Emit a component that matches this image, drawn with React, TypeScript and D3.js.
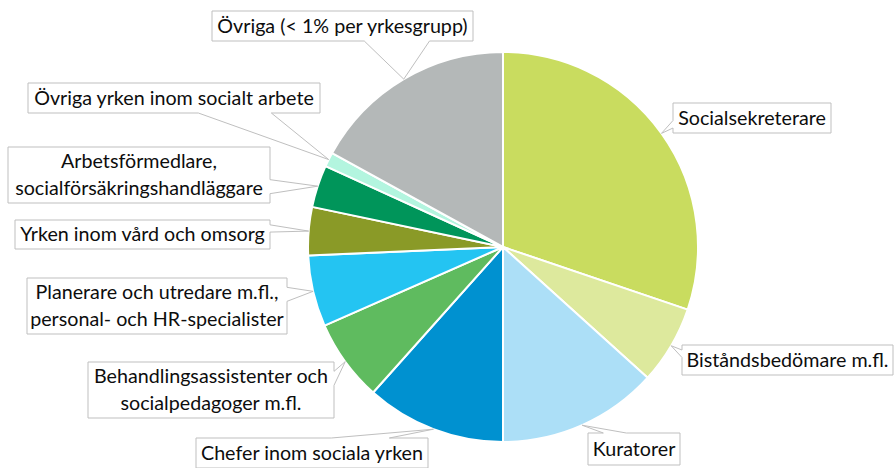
import React from "react";
import * as d3 from "d3";

// andel per yrkesgrupp (%), läst ur diagrammet, medurs från kl 12
const categories = [
  "Socialsekreterare",
  "Biståndsbedömare m.fl.",
  "Kuratorer",
  "Chefer inom sociala yrken",
  "Behandlingsassistenter och\nsocialpedagoger m.fl.",
  "Planerare och utredare m.fl.,\npersonal- och HR-specialister",
  "Yrken inom vård och omsorg",
  "Arbetsförmedlare,\nsocialförsäkringshandläggare",
  "Övriga yrken inom socialt arbete",
  "Övriga (< 1% per yrkesgrupp)",
];
const values = [30.2, 6.5, 13.3, 11.6, 6.8, 5.9, 4.0, 3.5, 1.2, 17.0];
const colors = [
  "#c9dc5f", "#dde99d", "#acdff7", "#0091d0", "#5fbb5f",
  "#24c4f2", "#8a9a27", "#00955a", "#b3f5df", "#b4b8b8",
];

// label box layout [x, y, w, h]
const boxes: [number, number, number, number][] = [
  [673, 103, 158, 30],
  [682, 345, 211, 30],
  [588, 433, 92, 32],
  [196, 438, 232, 30],
  [88, 362, 246, 56],
  [27, 278, 260, 56],
  [15, 220, 255, 29],
  [8, 147, 262, 56],
  [28, 83, 292, 30],
  [212, 11, 261, 30],
];

const W = 894, H = 468;
const cx = 503, cy = 247, R = 195;

// wedgeRectCallout-like path: box + pointer towards (tx, ty)
function calloutPath(x: number, y: number, w: number, h: number, tx: number, ty: number) {
  const hc = x + w / 2, vc = y + h / 2;
  const dx = tx - hc, dy = ty - vc;
  const dq = (dx * h) / w;
  const vertical = Math.abs(dy) - Math.abs(dq) > 0;
  const x1 = x + (w * (dx > 0 ? 7 : 2)) / 12, x2 = x + (w * (dx > 0 ? 10 : 5)) / 12;
  const y1 = y + (h * (dy > 0 ? 7 : 2)) / 12, y2 = y + (h * (dy > 0 ? 10 : 5)) / 12;
  const p = d3.path();
  p.moveTo(x, y);
  if (vertical && dy < 0) { p.lineTo(x1, y); p.lineTo(tx, ty); p.lineTo(x2, y); }
  p.lineTo(x + w, y);
  if (!vertical && dx > 0) { p.lineTo(x + w, y1); p.lineTo(tx, ty); p.lineTo(x + w, y2); }
  p.lineTo(x + w, y + h);
  if (vertical && dy > 0) { p.lineTo(x2, y + h); p.lineTo(tx, ty); p.lineTo(x1, y + h); }
  p.lineTo(x, y + h);
  if (!vertical && dx < 0) { p.lineTo(x, y2); p.lineTo(tx, ty); p.lineTo(x, y1); }
  p.closePath();
  return p.toString();
}

export default function App() {
  const pie = d3.pie<number>().sort(null).value((d) => d);
  const arcs = pie(values);
  const arc = d3.arc<d3.PieArcDatum<number>>().innerRadius(0).outerRadius(R);

  return (
    <svg width={W} height={H} style={{ position: "absolute", left: 0, top: 0, background: "#fff" }}
      fontFamily="Lato, 'Open Sans', sans-serif">
      <g transform={`translate(${cx},${cy})`}>
        {arcs.map((a, i) => (
          <path key={i} d={arc(a) || ""} fill={colors[i]} stroke="#fff" strokeWidth={2} strokeLinejoin="round" />
        ))}
      </g>
      {arcs.map((a, i) => {
        const mid = (a.startAngle + a.endAngle) / 2;
        const tx = cx + R * Math.sin(mid);
        const ty = cy - R * Math.cos(mid);
        const [bx, by, bw, bh] = boxes[i];
        const lines = categories[i].split("\n");
        const lh = 27;
        const y0 = by + bh / 2 - ((lines.length - 1) * lh) / 2;
        return (
          <g key={i}>
            <path d={calloutPath(bx, by, bw, bh, tx, ty)} fill="#fff" stroke="#bfbfbf" strokeWidth={1} />
            <text textAnchor="middle" fontSize={19.7} fill="#0d0d0d">
              {lines.map((l, j) => (
                <tspan key={j} x={bx + bw / 2} y={y0 + j * lh} dy="0.35em">{l}</tspan>
              ))}
            </text>
          </g>
        );
      })}
    </svg>
  );
}
